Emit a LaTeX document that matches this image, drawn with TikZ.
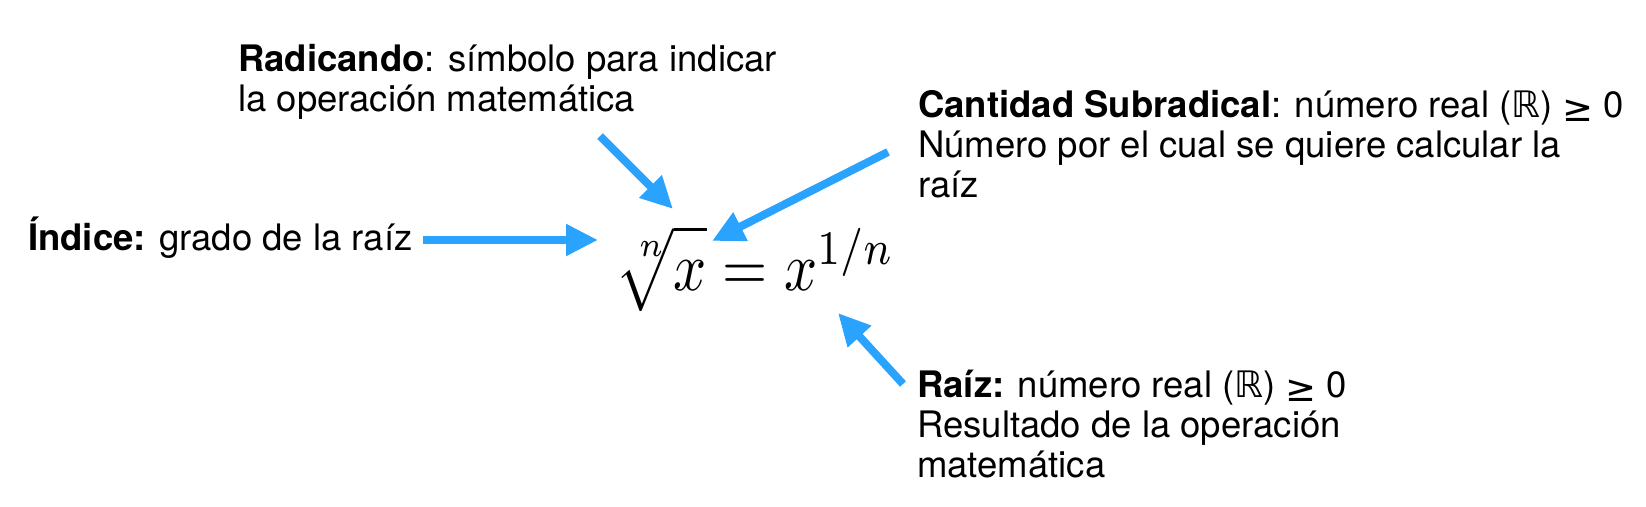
\documentclass[tikz,border=0pt]{standalone}
\usepackage{amsmath}
\usepackage{fontspec}
\setmainfont{TeX Gyre Heros}
\newfontfamily\symA{DejaVu Sans}
\usetikzlibrary{arrows.meta}
\definecolor{arrowblue}{RGB}{42,163,255}
\newcommand{\geqsym}{{\symA\fontsize{37}{40}\selectfont\raisebox{-0.12em}{≥}}}
\newcommand{\realsym}{{\symA ℝ}}
\tikzset{
  lbl/.style={anchor=base west, inner sep=0pt, align=left, font=\fontsize{36.5}{40}\selectfont},
  pointer/.style={draw=arrowblue, line width=8pt, -{Triangle[length=32pt,width=30pt]}, fill=arrowblue},
}
\begin{document}
\begin{tikzpicture}[x=1pt,y=-1pt]
\useasboundingbox[fill=white] (0,0) rectangle (1646,506);
\node[lbl] (indice) at (28,250) {\textbf{Índice:} grado de la raíz};
\node[lbl] (radicando) at (238,111) {\textbf{Radicando}: símbolo para indicar\\la operación matemática};
\node[lbl] (cantidad) at (918,197) {\textbf{Cantidad Subradical}: número real (\realsym) \geqsym\ 0\\Número por el cual se quiere calcular la\\raíz};
\node[lbl] (raiz) at (917,477) {\textbf{Raíz:} número real (\realsym) \geqsym\ 0\\Resultado de la operación\\matemática};
\node[anchor=base west, inner sep=0pt, xscale=5.8, yscale=6.9] (formula) at (605,290) {$\sqrt[\leftroot{-5}\uproot{2}n]{\vphantom{(}x} = x^{1/n}$};
\coordinate (a1s) at (423,240);
\coordinate (a1e) at (598,240);
\coordinate (a2s) at (600,136);
\coordinate (a2e) at (673,209);
\coordinate (a3s) at (888,152);
\coordinate (a3e) at (712,241);
\coordinate (a4s) at (903,384);
\coordinate (a4e) at (838,313);
\draw[pointer] (a1s) -- (a1e);
\draw[pointer] (a2s) -- (a2e);
\draw[pointer] (a3s) -- (a3e);
\draw[pointer] (a4s) -- (a4e);
\end{tikzpicture}
\end{document}
